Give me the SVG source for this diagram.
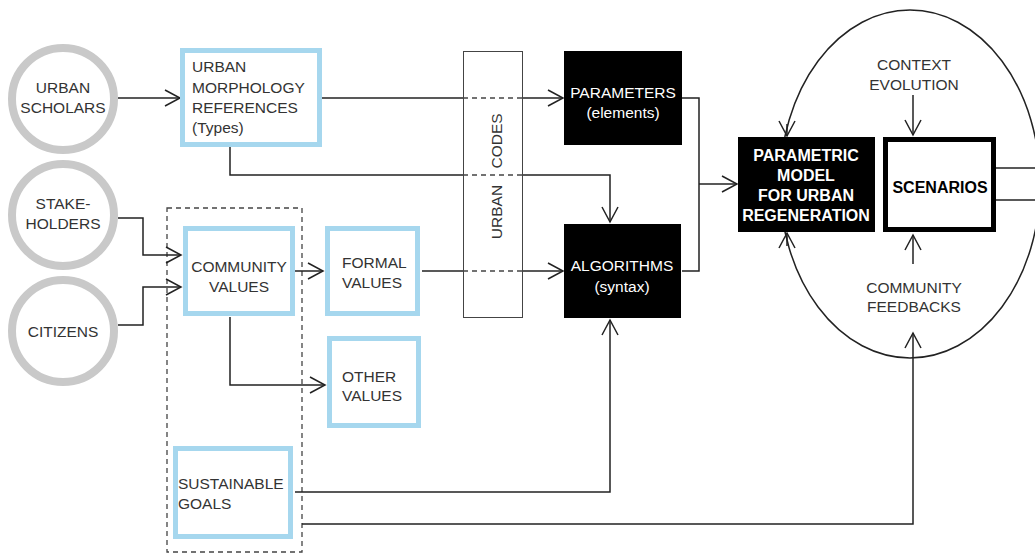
<svg xmlns="http://www.w3.org/2000/svg" width="1035" height="554" viewBox="0 0 1035 554">
<defs>
<style>
.t{font-family:"Liberation Sans",Arial,sans-serif;font-size:15.5px;fill:#333}
.c{text-anchor:middle}
.w{fill:#fff}
.b{font-weight:bold;font-size:16px}
.gc{fill:#fff;stroke:#c9c9c9;stroke-width:8}
.bl{fill:#fff;stroke:#a6d7ee;stroke-width:5}
.bk{fill:#000}
.ln{fill:none;stroke:#222;stroke-width:1.5}
.ds{fill:none;stroke:#444;stroke-width:1.3;stroke-dasharray:5 4}
</style>
<marker id="ah" viewBox="-17 -10 19 20" refX="0" refY="0" markerWidth="19" markerHeight="20" markerUnits="userSpaceOnUse" orient="auto">
<path d="M-15,-8 L0,0 L-15,8" fill="none" stroke="#222" stroke-width="1.5"/>
</marker>
</defs>
<rect width="1035" height="554" fill="#fff"/>

<g id="loop">
<ellipse cx="910" cy="184" rx="130" ry="174" fill="none" stroke="#222" stroke-width="1.5"/>
</g>

<g id="dashed-group">
<rect x="167" y="208" width="135" height="344" class="ds"/>
</g>

<g id="connectors">
<path class="ln" d="M118,98 H180" marker-end="url(#ah)"/>
<path class="ln" d="M322,98 H463"/>
<path class="ds" d="M463,98 H523"/>
<path class="ln" d="M523,98 H563" marker-end="url(#ah)"/>
<path class="ln" d="M230,147 V175 H463"/>
<path class="ds" d="M463,175 H523"/>
<path class="ln" d="M523,175 H610 V222" marker-end="url(#ah)"/>
<path class="ln" d="M118,218 H143 V255 H181" marker-end="url(#ah)"/>
<path class="ln" d="M118,325 H143 V287 H181" marker-end="url(#ah)"/>
<path class="ln" d="M295,271 H323" marker-end="url(#ah)"/>
<path class="ln" d="M230,317 V385 H325" marker-end="url(#ah)"/>
<path class="ln" d="M422,271 H463"/>
<path class="ds" d="M463,271 H523"/>
<path class="ln" d="M523,271 H563" marker-end="url(#ah)"/>
<path class="ln" d="M682,98 H699 V271 H682"/>
<path class="ln" d="M699,184 H737" marker-end="url(#ah)"/>
<path class="ln" d="M295,492 H610 V320" marker-end="url(#ah)"/>
<path class="ln" d="M302,524 H913 V333" marker-end="url(#ah)"/>
<path class="ln" d="M913,95 V135" marker-end="url(#ah)"/>
<path class="ln" d="M913,264 V235" marker-end="url(#ah)"/>
<path class="ln" d="M787,124 V136" marker-end="url(#ah)"/>
<path class="ln" d="M787,246 V233" marker-end="url(#ah)"/>
<path class="ln" d="M996,168 H1035"/>
<path class="ln" d="M996,200 H1035"/>
</g>

<g id="urban-scholars">
<circle cx="63" cy="99" r="51" class="gc"/>
<text class="t c" x="63" y="93">URBAN</text>
<text class="t c" x="63" y="113">SCHOLARS</text>
</g>
<g id="stakeholders">
<circle cx="63" cy="215" r="51" class="gc"/>
<text class="t c" x="63" y="209">STAKE-</text>
<text class="t c" x="63" y="229">HOLDERS</text>
</g>
<g id="citizens">
<circle cx="63" cy="331" r="51" class="gc"/>
<text class="t c" x="63" y="337">CITIZENS</text>
</g>

<g id="urban-morphology">
<rect x="182.5" y="50.5" width="137" height="94" class="bl"/>
<text class="t" x="192" y="72">URBAN</text>
<text class="t" x="192" y="93">MORPHOLOGY</text>
<text class="t" x="192" y="113">REFERENCES</text>
<text class="t" x="192" y="133">(Types)</text>
</g>

<g id="community-values">
<rect x="185.5" y="228.5" width="107" height="85" class="bl"/>
<text class="t c" x="239" y="272">COMMUNITY</text>
<text class="t c" x="239" y="292">VALUES</text>
</g>

<g id="formal-values">
<rect x="327.5" y="228.5" width="90" height="85" class="bl"/>
<text class="t" x="342" y="268">FORMAL</text>
<text class="t" x="342" y="288">VALUES</text>
</g>

<g id="other-values">
<rect x="329.5" y="338.5" width="89" height="87" class="bl"/>
<text class="t" x="342" y="382">OTHER</text>
<text class="t" x="342" y="401">VALUES</text>
</g>

<g id="sustainable-goals">
<rect x="175.5" y="448.5" width="115" height="88" class="bl"/>
<text class="t" x="178" y="489">SUSTAINABLE</text>
<text class="t" x="178" y="509">GOALS</text>
</g>

<g id="urban-codes">
<rect x="463.5" y="51.5" width="59" height="266" fill="none" stroke="#444" stroke-width="1"/>
<text class="t c" transform="translate(502,212) rotate(-90)">URBAN</text>
<text class="t c" transform="translate(502,141) rotate(-90)">CODES</text>
</g>

<g id="parameters">
<rect x="564" y="51" width="118" height="94" class="bk"/>
<text class="t c w" x="623" y="98">PARAMETERS</text>
<text class="t c w" x="623" y="118">(elements)</text>
</g>

<g id="algorithms">
<rect x="564" y="224" width="117" height="94" class="bk"/>
<text class="t c w" x="622" y="271">ALGORITHMS</text>
<text class="t c w" x="622" y="292">(syntax)</text>
</g>

<g id="parametric-model">
<rect x="738" y="137" width="137" height="95" class="bk"/>
<text class="t c w b" x="806" y="161">PARAMETRIC</text>
<text class="t c w b" x="806" y="181">MODEL</text>
<text class="t c w b" x="806" y="201">FOR URBAN</text>
<text class="t c w b" x="806" y="221">REGENERATION</text>
</g>

<g id="scenarios">
<rect x="885.5" y="139.5" width="108" height="90" fill="#fff" stroke="#000" stroke-width="5"/>
<text class="t c b" x="940" y="193" style="fill:#000">SCENARIOS</text>
</g>

<g id="context-evolution">
<text class="t c" x="914" y="70">CONTEXT</text>
<text class="t c" x="914" y="90">EVOLUTION</text>
</g>

<g id="community-feedbacks">
<text class="t c" x="914" y="293">COMMUNITY</text>
<text class="t c" x="914" y="312">FEEDBACKS</text>
</g>
</svg>
